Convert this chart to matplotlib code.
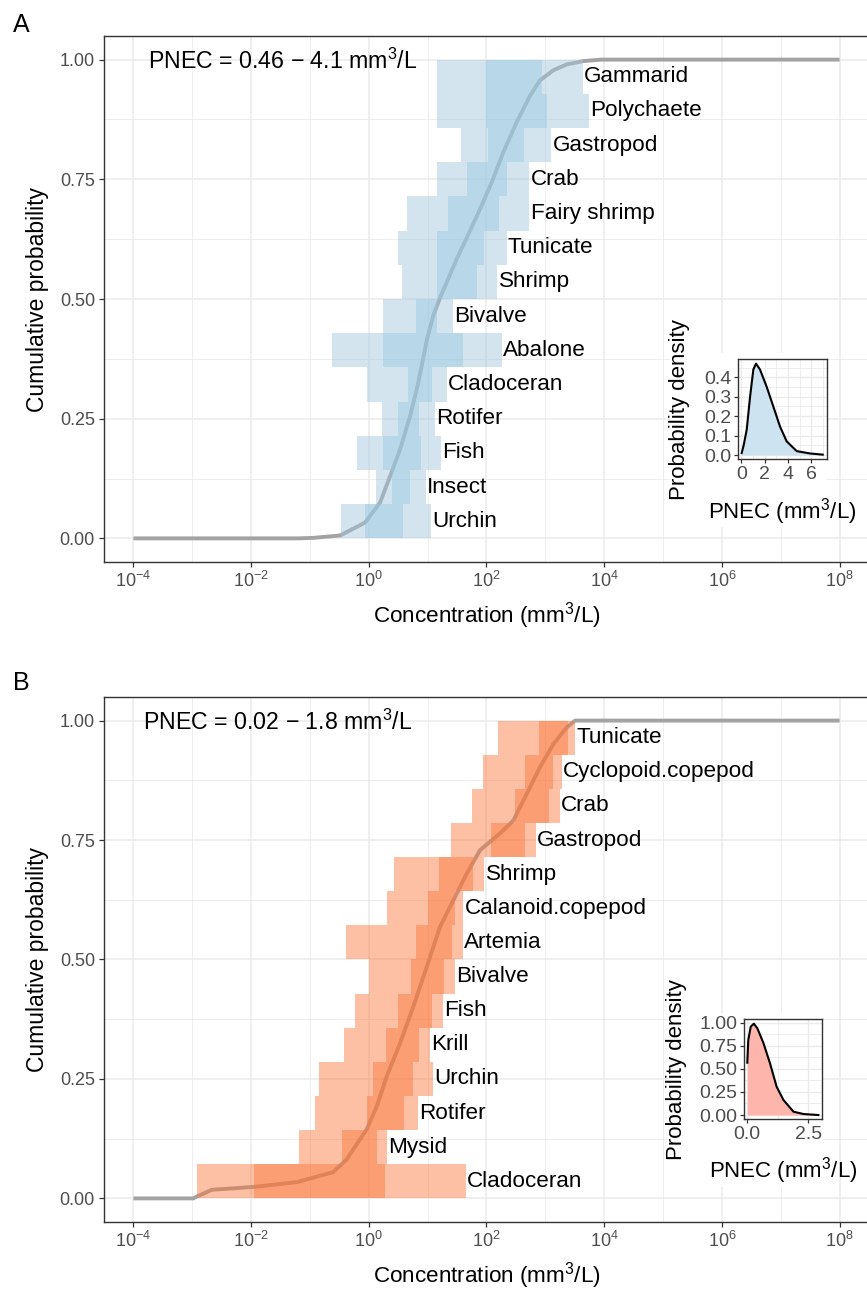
import numpy as np
import matplotlib
matplotlib.use("Agg")
import matplotlib.pyplot as plt
from matplotlib.ticker import FixedLocator, NullFormatter, LogFormatterSciNotation
from matplotlib.patches import Rectangle

plt.rcParams['font.family'] = ['Liberation Sans', 'DejaVu Sans']
plt.rcParams['mathtext.fontset'] = 'custom'
plt.rcParams['mathtext.rm'] = 'Liberation Sans'
plt.rcParams['mathtext.it'] = 'Liberation Sans:italic'
plt.rcParams['mathtext.bf'] = 'Liberation Sans:bold'

# ---------------- Panel A data (log10 concentration) ----------------
species_a = ["Urchin", "Insect", "Fish", "Rotifer", "Cladoceran", "Abalone", "Bivalve",
             "Shrimp", "Tunicate", "Fairy shrimp", "Crab", "Gastropod", "Polychaete", "Gammarid"]
outer_lo_a = [-0.476, 0.124, -0.194, 0.221, -0.024, -0.619, 0.248, 0.561, 0.498, 0.656, 1.166, 1.563, 1.166, 1.166]
outer_hi_a = [1.054, 0.974, 1.223, 1.127, 1.325, 2.260, 1.438, 2.185, 2.345, 2.729, 2.729, 3.103, 3.738, 3.636]
inner_lo_a = [-0.063, 0.396, 0.238, 0.493, 0.663, 0.248, 0.804, 1.155, 1.155, 1.342, 1.665, 2.022, 1.988, 1.988]
inner_hi_a = [0.588, 0.702, 0.884, 0.860, 1.071, 1.597, 1.166, 1.835, 1.959, 2.212, 2.345, 2.644, 3.025, 2.950]

curve_x_a = [-4.0, -1.2, -0.95, -0.488, -0.063, 0.192, 0.362, 0.532, 0.702, 0.816, 0.900, 0.985,
             1.098, 1.212, 1.325, 1.495, 1.665, 1.891, 2.090, 2.287, 2.515, 2.741, 2.911, 3.137,
             3.364, 3.647, 3.95, 8.0]
curve_y_a = [0.0, 0.0, 0.001, 0.006, 0.033, 0.075, 0.130, 0.186, 0.256, 0.312, 0.361, 0.414,
             0.466, 0.503, 0.535, 0.584, 0.628, 0.688, 0.744, 0.807, 0.870, 0.925, 0.957, 0.978,
             0.990, 0.997, 1.0, 1.0]

dens_x_a = [0.03, 0.20, 0.46, 0.75, 1.03, 1.26, 1.60, 2.18, 2.74, 3.32, 3.89, 4.75, 5.89, 6.98]
dens_y_a = [0.01, 0.05, 0.13, 0.30, 0.44, 0.47, 0.44, 0.35, 0.25, 0.146, 0.07, 0.02, 0.008, 0.002]

# ---------------- Panel B data (log10 concentration) ----------------
species_b = ["Cladoceran", "Mysid", "Rotifer", "Urchin", "Krill", "Fish", "Bivalve", "Artemia",
             "Calanoid.copepod", "Shrimp", "Gastropod", "Crab", "Cyclopoid.copepod", "Tunicate"]
outer_lo_b = [-2.912, -1.184, -0.912, -0.839, -0.420, -0.233, 0.005, -0.391, 0.306, 0.430, 1.393, 1.750, 1.947, 2.192]
outer_hi_b = [1.648, 0.306, 0.833, 1.088, 1.042, 1.257, 1.466, 1.597, 1.607, 1.964, 2.843, 3.251, 3.280, 3.505]
inner_lo_b = [-1.949, -0.449, -0.024, 0.078, 0.289, 0.503, 0.714, 0.799, 1.013, 1.200, 2.073, 2.486, 2.656, 2.894]
inner_hi_b = [0.277, 0.136, 0.605, 0.758, 0.860, 1.071, 1.280, 1.410, 1.466, 1.777, 2.656, 3.064, 3.137, 3.392]

curve_x_b = [-4.0, -2.98, -2.923, -2.668, -1.966, -1.223, -0.607, -0.374, -0.262, -0.034, 0.136,
             0.306, 0.532, 0.758, 0.986, 1.212, 1.466, 1.665, 1.891, 2.231, 2.457, 2.685, 2.911,
             3.137, 3.364, 3.505, 8.0]
curve_y_b = [0.0, 0.0, 0.004, 0.018, 0.024, 0.034, 0.055, 0.082, 0.103, 0.145, 0.193,
             0.256, 0.325, 0.402, 0.485, 0.569, 0.631, 0.680, 0.729, 0.764, 0.791, 0.847, 0.903,
             0.951, 0.986, 1.0, 1.0]

dens_x_b = [0.0, 0.04, 0.14, 0.27, 0.41, 0.66, 0.93, 1.20, 1.48, 1.89, 2.30, 2.91]
dens_y_b = [0.567, 0.81, 0.957, 0.99, 0.94, 0.78, 0.56, 0.307, 0.163, 0.036, 0.011, 0.0]

W, H = 867, 1290
fig = plt.figure(figsize=(W / 100, H / 100), dpi=100)

GRID = '#EBEBEB'
DARK = '#333333'
TICKC = '#4D4D4D'


def fx(px):
    return px / W


def fy(py):
    return 1 - py / H


def style_main(ax):
    ax.set_xscale('log')
    ax.set_xlim(10 ** -4.5, 10 ** 8.5)
    ax.set_ylim(-0.05, 1.05)
    ax.xaxis.set_major_locator(FixedLocator(10.0 ** np.arange(-4, 9, 2)))
    ax.xaxis.set_major_formatter(LogFormatterSciNotation())
    ax.xaxis.set_minor_locator(FixedLocator(10.0 ** np.arange(-5, 9, 2)))
    ax.xaxis.set_minor_formatter(NullFormatter())
    ax.set_yticks([0, 0.25, 0.5, 0.75, 1.0])
    ax.set_yticklabels(['0.00', '0.25', '0.50', '0.75', '1.00'])
    ax.yaxis.set_minor_locator(FixedLocator(np.arange(0.125, 1.0, 0.25)))
    ax.grid(which='major', color=GRID, lw=1.1)
    ax.grid(which='minor', color=GRID, lw=0.6)
    ax.set_axisbelow(True)
    ax.tick_params(which='minor', length=0)
    ax.tick_params(which='major', length=3.5, width=0.9, color=DARK,
                   labelcolor=TICKC, labelsize=13, pad=3)
    for s in ax.spines.values():
        s.set_color(DARK)
        s.set_linewidth(1.0)
    ax.set_ylabel('Cumulative probability', fontsize=16.5)
    ax.set_xlabel('Concentration (mm$^3$/L)', fontsize=16.2)
    ax.yaxis.set_label_coords(-0.0863, 0.5)
    ax.xaxis.set_label_coords(0.5, -0.101)
    ax.yaxis.label.set_verticalalignment('center')
    ax.xaxis.label.set_verticalalignment('center')


def draw_panel(ax, species, olo, ohi, ilo, ihi, cx, cy, color, icolor, alpha):
    n = len(species)
    h = 1.0 / n
    y = np.arange(n) * h
    olo, ohi, ilo, ihi = map(np.asarray, (olo, ohi, ilo, ihi))
    ax.plot(10.0 ** np.asarray(cx), cy, color='#A3A3A3', lw=2.8, zorder=2,
            solid_capstyle='butt', solid_joinstyle='round')
    ax.barh(y, 10.0 ** ohi - 10.0 ** olo, left=10.0 ** olo, height=h, align='edge',
            color=color, alpha=alpha, lw=0, zorder=3)
    ax.barh(y, 10.0 ** ihi - 10.0 ** ilo, left=10.0 ** ilo, height=h, align='edge',
            color=icolor, alpha=alpha, lw=0, zorder=3)
    for i, sp in enumerate(species):
        ax.annotate(sp, (10.0 ** ohi[i], y[i] + h / 2), xytext=(0.8, 0),
                    textcoords='offset points', ha='left', va='center',
                    fontsize=16.2, color='black', zorder=5)
    style_main(ax)


def draw_inset(box, white, dx, dy, fill, xlim, ylim, xmaj, xmin, ymaj, ymin,
               xlabels, ylabels, ylab_x, xlab_y):
    wx0, wy0, wx1, wy1 = white
    fig.patches.append(Rectangle((fx(wx0), fy(wy1)), fx(wx1 - wx0), (wy1 - wy0) / H,
                                 transform=fig.transFigure, facecolor='white',
                                 edgecolor='none', zorder=1))
    x0, y0, x1, y1 = box
    ax = fig.add_axes([fx(x0), fy(y1), fx(x1 - x0), (y1 - y0) / H], zorder=2)
    ax.fill_between(dx, dy, 0, color=fill, lw=0, zorder=2)
    ax.plot(dx, dy, color='black', lw=1.5, zorder=3)
    ax.set_xlim(*xlim)
    ax.set_ylim(*ylim)
    ax.xaxis.set_major_locator(FixedLocator(xmaj))
    ax.set_xticklabels(xlabels)
    ax.xaxis.set_minor_locator(FixedLocator(xmin))
    ax.yaxis.set_major_locator(FixedLocator(ymaj))
    ax.set_yticklabels(ylabels)
    ax.yaxis.set_minor_locator(FixedLocator(ymin))
    ax.grid(which='major', color=GRID, lw=1.0)
    ax.grid(which='minor', color=GRID, lw=0.6)
    ax.set_axisbelow(True)
    ax.tick_params(which='minor', length=0)
    ax.tick_params(which='major', length=3.0, width=0.9, color=DARK,
                   labelcolor=TICKC, labelsize=14, pad=2)
    for s in ax.spines.values():
        s.set_color(DARK)
        s.set_linewidth(1.0)
    ax.set_ylabel('Probability density', fontsize=16)
    ax.set_xlabel('PNEC (mm$^3$/L)', fontsize=16)
    ax.yaxis.set_label_coords(ylab_x, 0.5)
    ax.xaxis.set_label_coords(0.5, xlab_y)
    ax.yaxis.label.set_verticalalignment('center')
    ax.xaxis.label.set_verticalalignment('center')
    return ax


# ---- Panel A ----
axA = fig.add_axes([fx(104), fy(562.3), fx(765), 526.6 / H], zorder=0)
draw_panel(axA, species_a, outer_lo_a, outer_hi_a, inner_lo_a, inner_hi_a,
           curve_x_a, curve_y_a, '#A2C6DE', '#99C9E1', 0.46)
axA.text(10 ** -3.75, 0.996, 'PNEC = 0.46 \u2212 4.1 mm$^3$/L', fontsize=16.7,
         ha='left', va='center', zorder=6)

# ---- Panel B ----
axB = fig.add_axes([fx(104), fy(1222.3), fx(765), 525.6 / H], zorder=0)
draw_panel(axB, species_b, outer_lo_b, outer_hi_b, inner_lo_b, inner_hi_b,
           curve_x_b, curve_y_b, '#FB763B', '#FB763B', 0.46)
axB.text(10 ** -3.835, 0.996, 'PNEC = 0.02 \u2212 1.8 mm$^3$/L', fontsize=16.7,
         ha='left', va='center', zorder=6)

# ---- Insets ----
draw_inset((738.3, 359, 826.7, 459.3), (670, 353, 827, 527), dens_x_a, dens_y_a,
           '#CDE4F0', (-0.26, 7.32), (-0.022, 0.494),
           [0, 2, 4, 6], [1, 3, 5, 7], [0, 0.1, 0.2, 0.3, 0.4],
           [0.05, 0.15, 0.25, 0.35, 0.45],
           ['0', '2', '4', '6'], ['0.0', '0.1', '0.2', '0.3', '0.4'],
           -0.66, -0.52)
draw_inset((744, 1019.3, 822.3, 1119), (668, 1013, 823, 1187), dens_x_b, dens_y_b,
           '#FDB5AC', (-0.135, 3.07), (-0.043, 1.037),
           [0, 2.5], [1.25], [0, 0.25, 0.5, 0.75, 1.0],
           [0.125, 0.375, 0.625, 0.875],
           ['0.0', '2.5'], ['0.00', '0.25', '0.50', '0.75', '1.00'],
           -0.86, -0.52)

fig.text(fx(13), fy(25), 'A', fontsize=18, ha='left', va='center')
fig.text(fx(13), fy(683), 'B', fontsize=18, ha='left', va='center')

fig.savefig('out.png', dpi=100)
